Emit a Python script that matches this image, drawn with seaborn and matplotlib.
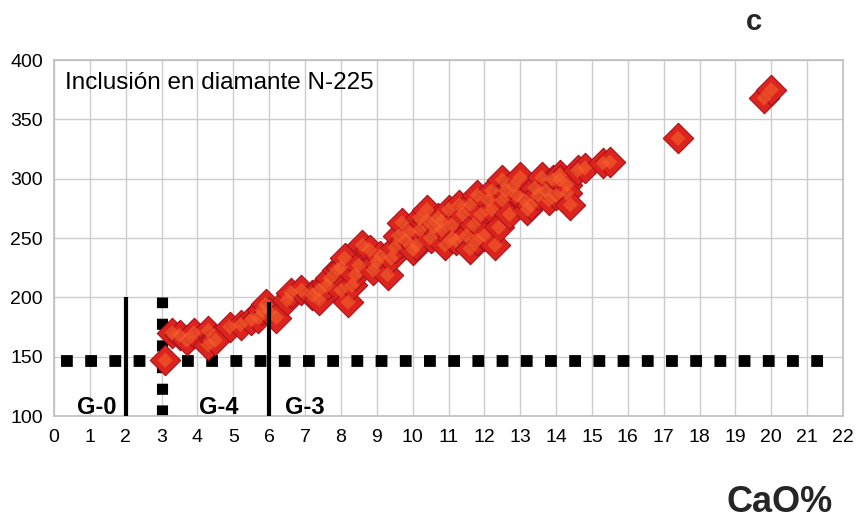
import numpy as np
import pandas as pd
import matplotlib
matplotlib.use("Agg")
import matplotlib.pyplot as plt
import seaborn as sns

# CaO% vs. valor (inclusión N-225)
cao = [
    3.1, 3.3, 3.5, 3.7, 3.9, 4.3, 4.3, 4.5, 4.9, 5.2, 5.5, 5.7, 5.8, 5.9, 6.0, 6.2,
    6.5, 6.6, 6.9, 7.2, 7.4, 7.4, 7.6, 7.7, 7.9, 8.0, 8.0, 8.1, 8.2, 8.3, 8.4, 8.5,
    8.6, 8.8, 8.9, 9.0, 9.1, 9.3, 9.4, 9.5, 9.6, 9.7, 9.8, 9.9, 10.0, 10.1, 10.2,
    10.2, 10.4, 10.4, 10.5, 10.6, 10.7, 10.8, 10.8, 10.9, 11.0, 11.1, 11.1, 11.2,
    11.3, 11.4, 11.5, 11.6, 11.6, 11.7, 11.8, 11.8, 11.9, 12.0, 12.1, 12.2, 12.2,
    12.3, 12.4, 12.5, 12.5, 12.6, 12.7, 12.8, 12.9, 13.0, 13.1, 13.2, 13.3, 13.4,
    13.5, 13.6, 13.7, 13.8, 13.9, 14.0, 14.1, 14.1, 14.3, 14.3, 14.4, 14.6, 14.8,
    15.3, 15.5, 17.4, 19.8, 20.0,
]
valor = [
    147, 170, 168, 164, 170, 172, 160, 164, 175, 177, 181, 183, 189, 194, 188, 183,
    198, 204, 206, 202, 198, 206, 210, 216, 223, 225, 206, 233, 196, 210, 219, 227,
    244, 240, 223, 230, 235, 219, 233, 242, 252, 263, 248, 255, 240, 244, 257,
    267, 265, 274, 250, 259, 267, 257, 264, 244, 274, 261, 250, 248,
    278, 270, 252, 278, 241, 261, 286, 248, 270, 252, 282, 290, 274,
    244, 259, 299, 282, 290, 270, 294, 286, 301, 282, 274, 278, 292,
    286, 301, 290, 282, 299, 286, 303, 299, 295, 288, 278, 307, 309,
    313, 314, 334, 368, 375,
]

# límites de los grupos G-0 / G-4 / G-3
nivel_h = 146
limites = [2, 3, 6]
limite_ymin = [100, 100, 97]
limite_ymax = [200, 200, 196]
grupos = ["G-0", "G-4", "G-3"]
grupos_x = [1.2, 4.6, 7.0]
grupos_y = [107, 107, 107]

xticks = list(range(0, 23))
yticks = [100, 150, 200, 250, 300, 350, 400]

df = pd.DataFrame({"CaO": cao, "valor": valor})

sns.set_theme(style="whitegrid")
plt.rcParams["font.family"] = ["Liberation Sans", "DejaVu Sans"]

fig = plt.figure(figsize=(8.58, 5.21), dpi=100)
ax = fig.add_axes([0.063, 0.2015, 0.9195, 0.6833])

# líneas de referencia
ax.plot([0.2, 21.6], [nivel_h, nivel_h], color="black", lw=8.5,
        dashes=(1.0, 1.05), solid_capstyle="butt", dash_capstyle="butt", zorder=1)
for xv, y0, y1, estilo in zip(limites, limite_ymin, limite_ymax, ["solid", "dotted", "solid"]):
    if estilo == "solid":
        ax.plot([xv, xv], [y0, y1], color="black", lw=3, solid_capstyle="butt", zorder=4)
    else:
        ax.plot([xv, xv], [y0, y1], color="black", lw=8, dashes=(1.0, 0.95),
                dash_capstyle="butt", zorder=1)

# puntos (rombo rojo con brillo naranja en el centro)
sns.scatterplot(data=df, x="CaO", y="valor", marker="D", s=240,
                color="#dc241f", edgecolor="#a8111a", linewidth=0.8, ax=ax, zorder=3)
sns.scatterplot(data=df, x="CaO", y="valor", marker="D", s=60,
                color="#f5622c", edgecolor="none", linewidth=0, alpha=0.6, ax=ax, zorder=3)

for g, gx, gy in zip(grupos, grupos_x, grupos_y):
    ax.text(gx, gy, g, fontsize=17, fontweight="bold", ha="center", va="center",
            color="black", zorder=5)

ax.text(0.3, 381, "Inclusión en diamante N-225", fontsize=17.5, ha="left", va="center",
        color="black")

ax.set_xlim(0, 22)
ax.set_ylim(100, 400)
ax.set_xticks(xticks)
ax.set_yticks(yticks)
ax.tick_params(axis="both", labelsize=14, labelcolor="black", length=6, width=1,
               color="#c0c0c0", direction="out")
ax.tick_params(axis="x", pad=3)
ax.tick_params(axis="y", pad=2)
ax.grid(True, color="#cccccc", linewidth=1)
for s in ax.spines.values():
    s.set_visible(True)
    s.set_color("#c0c0c0")
ax.set_xlabel("")
ax.set_ylabel("")

fig.text(0.909, 0.035, "CaO%", fontsize=26, fontweight="bold", ha="center", va="center")
fig.text(0.879, 0.958, "c", fontsize=21, fontweight="bold", ha="center", va="center")

fig.savefig("out.png", dpi=100)
